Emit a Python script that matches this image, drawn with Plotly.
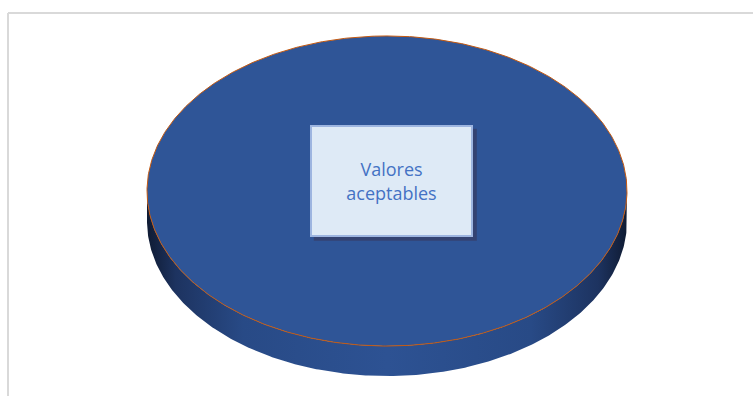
import numpy as np
import plotly.graph_objects as go

# ---- data ----
categories = ["Valores aceptables"]
values = [100]

# ---- pie geometry (abstract units, rx = 1) ----
RX, RY, DEPTH = 1.0, 0.646, 0.125
START_DEG = 90.0

total = float(sum(values))
fracs = [v / total for v in values]

fig = go.Figure()

def ell(theta, dy=0.0):
    return RX * np.cos(theta), RY * np.sin(theta) - dy

cum = 0.0
for cat, f in zip(categories, fracs):
    a0 = np.deg2rad(START_DEG - 360 * cum)
    a1 = np.deg2rad(START_DEG - 360 * (cum + f))
    cum += f
    # front wall: lower half of the ellipse
    t = np.linspace(-np.pi, 0, 300)
    xs_top, ys_top = ell(t)
    xs_bot, ys_bot = ell(t[::-1], DEPTH)
    fig.add_trace(go.Scatter(
        x=np.concatenate([xs_top, xs_bot]),
        y=np.concatenate([ys_top, ys_bot]),
        mode="lines", fill="toself", line=dict(width=0),
        fillgradient=dict(type="horizontal", colorscale=[
            [0.0, "#0f1b33"], [0.06, "#1d3360"], [0.2, "#284a86"],
            [0.5, "#2d5293"], [0.8, "#284a86"], [0.94, "#1d3360"], [1.0, "#0f1b33"]]),
        hoverinfo="skip", showlegend=False))
    # top face
    tt = np.linspace(a0, a1, 600)
    xt, yt = ell(tt)
    if f < 1.0:
        xt = np.concatenate([[0], xt, [0]])
        yt = np.concatenate([[0], yt, [0]])
    fig.add_trace(go.Scatter(
        x=xt, y=yt, mode="lines", fill="toself",
        fillcolor="#2F5597", line=dict(color="#C55A11", width=1),
        hoverinfo="skip", showlegend=False, name=cat))

# label box
lx, ly = 0.018, 0.043
PX = 240.0  # pixels per unit
bw, bh = 163 / PX, 112 / PX
fig.add_shape(type="rect", x0=lx - bw / 2 + 4 / PX, x1=lx + bw / 2 + 4 / PX,
              y0=ly - bh / 2 - 4 / PX, y1=ly + bh / 2 - 4 / PX,
              fillcolor="rgba(60,40,60,0.4)", line=dict(width=0), layer="above")
fig.add_annotation(x=lx, y=ly, text=categories[0].replace(" ", "<br>"),
                   showarrow=False, width=157, height=106, align="center",
                   valign="middle", bgcolor="#DEEAF6", bordercolor="#9DB5E0",
                   borderwidth=2, borderpad=1,
                   font=dict(family="Open Sans, sans-serif", size=18,
                             color="#4472C4"))

# chart border (top-left of container)
fig.add_shape(type="line", xref="paper", yref="paper", x0=8 / 753, x1=1,
              y0=1 - 13 / 396, y1=1 - 13 / 396, line=dict(color="#D9D9D9", width=2))
fig.add_shape(type="line", xref="paper", yref="paper", x0=8 / 753, x1=8 / 753,
              y0=1 - 13 / 396, y1=0, line=dict(color="#D9D9D9", width=2))

W, H = 753, 396
cx_px, cy_px = 387, 191
fig.update_xaxes(visible=False, range=[-cx_px / PX, (W - cx_px) / PX], fixedrange=True)
fig.update_yaxes(visible=False, range=[-(H - cy_px) / PX, cy_px / PX], fixedrange=True)
fig.update_layout(width=W, height=H, margin=dict(l=0, r=0, t=0, b=0),
                  paper_bgcolor="white", plot_bgcolor="white")

fig.write_html("out.html")
